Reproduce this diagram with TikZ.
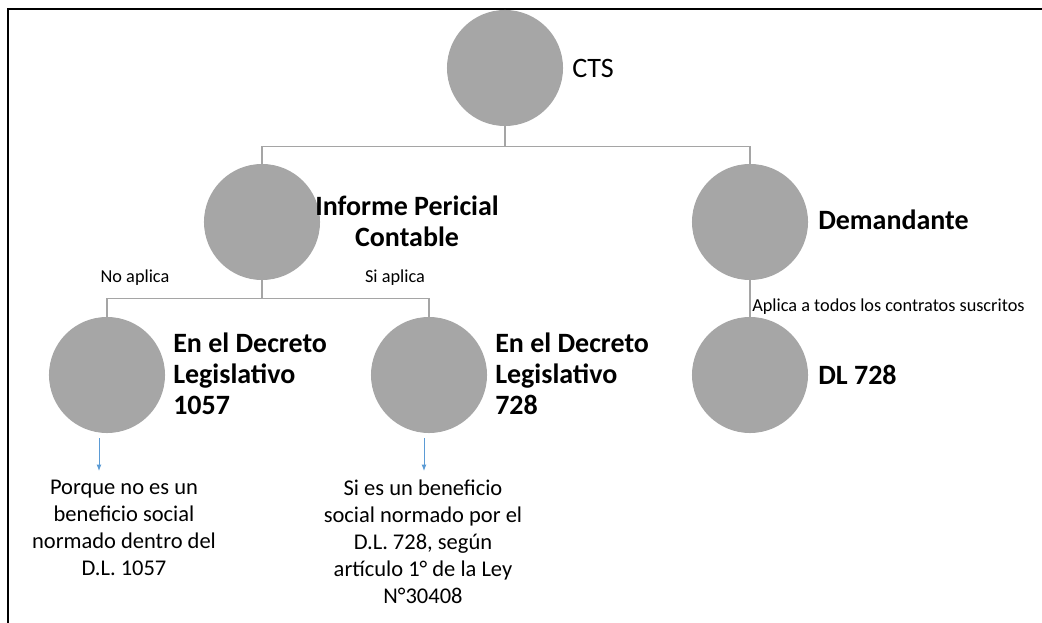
\documentclass[tikz,border=0pt]{standalone}
\usepackage{fontspec}
\setmainfont{Carlito}
\usepackage{xcolor}
\usetikzlibrary{
    arrows.meta,
    positioning
}
\definecolor{bolagris}{HTML}{A6A6A6}
\definecolor{ramagris}{HTML}{A5A5A5}
\definecolor{flechaazul}{HTML}{5B9BD5}

\begin{document}
\begin{tikzpicture}[x=0.025cm, y=-0.025cm,
    bola/.style={circle, fill=bolagris, minimum size=2.9cm, inner sep=0},
    rama/.style={draw=ramagris, line width=0.9pt},
    titulo/.style={font=\fontsize{19.9}{22}\selectfont\bfseries, align=left, inner sep=0, anchor=west},
    nota/.style={font=\fontsize{13}{15}\selectfont, inner sep=0},
    texto/.style={font=\fontsize{16}{19.2}\selectfont, align=center, inner sep=0, anchor=north},
    flecha/.style={draw=flechaazul, line width=0.7pt, -{Latex[length=4.5pt, width=3.5pt]}}
    ]
    \useasboundingbox (0,0) rectangle (1042,623);
    \draw[line width=2pt] (8,623) -- (8,9) -- (1042,9);
    % circulos
    \node[bola] (cts) at (505,68) {};
    \node[bola] (inf) at (262,222) {};
    \node[bola] (dem) at (750,222) {};
    \node[bola] (d1057) at (107,375) {};
    \node[bola] (d728) at (429,375) {};
    \node[bola] (dl) at (750,375) {};
    % titulos
    \node[titulo, font=\fontsize{20}{22}\selectfont] (tcts) at (572,68) {CTS};
    \node[titulo, align=center] (tinf) at (315,221) {Informe Pericial\\Contable};
    \node[titulo] (tdem) at (818,220) {Demandante};
    \node[titulo] (t1057) at (173,374) {En el Decreto\\Legislativo\\1057};
    \node[titulo] (t728) at (495,374) {En el Decreto\\Legislativo\\728};
    \node[titulo] (tdl) at (818,375) {DL 728};
    % ramas
    \draw[rama] (cts.south) -- ++(0,20) coordinate (c1) -| (inf.north);
    \draw[rama] (c1) -| (dem.north);
    \draw[rama] (inf.south) -- ++(0,18) coordinate (c2) -| (d1057.north);
    \draw[rama] (c2) -| (d728.north);
    \draw[rama] (dem.south) -- (dl.north);
    \node[nota] (nno) at (135,278) {No aplica};
    \node[nota] (nsi) at (395,278) {Si aplica};
    \node[nota, anchor=west] (ntodos) at (752,307) {Aplica a todos los contratos suscritos};
    % textos
    \node[texto] (p1057) at (124,480) {Porque no es un\\beneficio social\\normado dentro del\\D.L. 1057};
    \node[texto] (p728) at (423,480) {Si es un beneficio\\social normado por el\\D.L. 728, según\\artículo 1° de la Ley\\N°30408};
    \draw[flecha] ([shift={(-8,5)}]d1057.south) -- ([shift={(-8,-9)}]d1057.south |- p1057.north);
    \draw[flecha] ([shift={(-5,5)}]d728.south) -- ([shift={(-5,-9)}]d728.south |- p728.north);
\end{tikzpicture}
\end{document}
